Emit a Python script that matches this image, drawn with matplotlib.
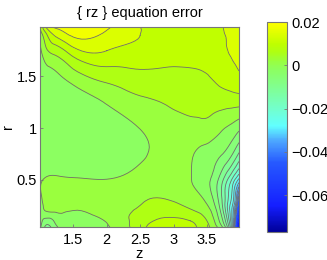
import numpy as np
import matplotlib
matplotlib.use('Agg')
import matplotlib.pyplot as plt
import matplotlib.tri as mtri
from matplotlib.colors import LinearSegmentedColormap, Normalize
from matplotlib.cm import ScalarMappable

plt.rcParams['font.family'] = ['Liberation Sans', 'DejaVu Sans']

z = [1, 1.1, 1.25, 1.5, 2, 2.5, 3, 3.25, 3.5, 3.7, 3.85, 3.93, 3.98]
r = [0.04, 0.1, 0.2, 0.3, 0.5, 0.75, 1.0, 1.25, 1.5, 1.75, 1.9, 1.98]
# error values in 1e-3, one row per r
err_r004 = [-3, -9, -4.5, -2.5, -0.5, 6.5, 12, 9.5, 5, -2, -20, -50, -77]
err_r010 = [-2, -6, -2.5, -1.2, 0.3, 6, 9, 8, 4, -5, -23, -46, -70]
err_r020 = [-1.5, 0.3, 0.4, 0, 2, 4.7, 6.5, 4.5, 1.5, -8, -25, -40, -58]
err_r030 = [-0.5, 1, 1.5, 1.5, 2, 3.5, 3.7, 2.2, -0.8, -10, -23, -34, -48]
err_r050 = [-0.3, 0.3, 0.5, 0.3, 0.05, 1.5, 2, 0.2, -2.9, -9.5, -18.5, -24.8, -29]
err_r075 = [-2.5, -2.5, -2.6, -2.6, -2, -0.7, 1.5, 0.5, -1.4, -3.5, -6.7, -10, -12.5]
err_r100 = [-3.2, -3.2, -3.2, -3, -1.8, 0.1, 2.6, 2.8, 2.7, 0.8, -0.8, -2, -3]
err_r125 = [-3.2, -3.2, -3, -2.4, 0.3, 3, 4.6, 5.3, 5.5, 5.5, 5.5, 5.5, 5.5]
err_r150 = [-3, -2, -0.8, 2, 5.5, 7, 7, 7.2, 7.8, 9.2, 10.3, 11, 11.4]
err_r175 = [-1, 3.5, 5.8, 10.5, 12, 10.5, 9.5, 9.5, 9.5, 10, 12.5, 13, 13.5]
err_r190 = [1.5, 7.5, 13, 16.5, 15, 12, 10.5, 10.3, 10.3, 11, 13, 14, 15]
err_r198 = [4, 13, 16.5, 18, 16.7, 12, 11, 10.5, 10.5, 11.5, 13.5, 15, 16]

xticks = [1.5, 2, 2.5, 3, 3.5]
xticklabels = ['1.5', '2', '2.5', '3', '3.5']
yticks = [0.5, 1, 1.5]
yticklabels = ['0.5', '1', '1.5']
cticks = [-0.06, -0.04, -0.02, 0, 0.02]
cticklabels = ['\u22120.06', '\u22120.04', '\u22120.02', '0', '0.02']

vmin, vmax = -0.077, 0.02
levels = np.arange(-0.076, 0.0201, 0.004)
levels = np.concatenate(([-0.12], levels, [0.06]))
line_levels = levels[(levels > -0.046) & (levels < 0.02)]

def f(v):
    return (v - vmin) / (vmax - vmin)

cmap = LinearSegmentedColormap.from_list('err', [
    (0, (0, 0, 0.6)),
    (f(-0.065), (0.08, 0.12, 1)),
    (f(-0.045), (0.15, 0.35, 1)),
    (f(-0.035), (0.3, 0.65, 1)),
    (f(-0.028), (0.38, 1, 1)),
    (f(-0.02), (0.45, 1, 0.8)),
    (f(-0.002), (0.55, 1, 0.38)),
    (f(0.002), (0.6, 1, 0.25)),
    (f(0.006), (0.68, 1, 0.08)),
    (f(0.010), (0.75, 1, 0)),
    (f(0.014), (0.85, 1, 0)),
    (1, (1, 1, 0)),
])

Z = np.array([err_r004, err_r010, err_r020, err_r030, err_r050, err_r075,
              err_r100, err_r125, err_r150, err_r175, err_r190, err_r198]) / 1000

# smooth the contours with matplotlib's refiner, as the grid is coarse
zz, rr = np.meshgrid(z, r)
tri = mtri.Triangulation(zz.ravel(), rr.ravel())
refiner = mtri.UniformTriRefiner(tri)
tri2, Z2 = refiner.refine_field(Z.ravel(), subdiv=3)

fig = plt.figure(figsize=(3.27, 2.6), dpi=100)
W, H = 327, 260
ax = fig.add_axes([40/W, 1-227/H, 199/W, 200/H])
ax.tricontourf(tri2, Z2, levels=levels, cmap=cmap, norm=Normalize(vmin, vmax))
ax.tricontour(tri2, Z2, levels=line_levels, colors='#6e6e6e', linewidths=0.6, linestyles='solid')
ax.set_xlim(1, 3.98)
ax.set_ylim(0.04, 1.98)
ax.set_xticks(xticks)
ax.set_xticklabels(xticklabels)
ax.set_yticks(yticks)
ax.set_yticklabels(yticklabels)
ax.tick_params(direction='in', length=2, width=0.6, color='#777777', labelsize=10.5, pad=2)
ax.tick_params(axis='x', pad=4)
ax.set_xlabel('z', fontsize=10.5, labelpad=0)
ax.set_ylabel('r', fontsize=10.5, labelpad=1)
ax.set_title('{ rz } equation error', fontsize=10.5, pad=7)
for s in ax.spines.values():
    s.set_color('#777777')
    s.set_linewidth(0.8)

cax = fig.add_axes([267/W, 1-232/H, 20/W, 210/H])
cb = fig.colorbar(ScalarMappable(norm=Normalize(vmin, vmax), cmap=cmap), cax=cax)
cb.set_ticks(cticks)
cb.set_ticklabels(cticklabels)
cax.tick_params(direction='in', length=2, width=0.6, color='#777777', labelsize=10.5, pad=3)
cb.outline.set_edgecolor('#777777')
cb.outline.set_linewidth(0.8)

fig.savefig('out.png', dpi=100)
